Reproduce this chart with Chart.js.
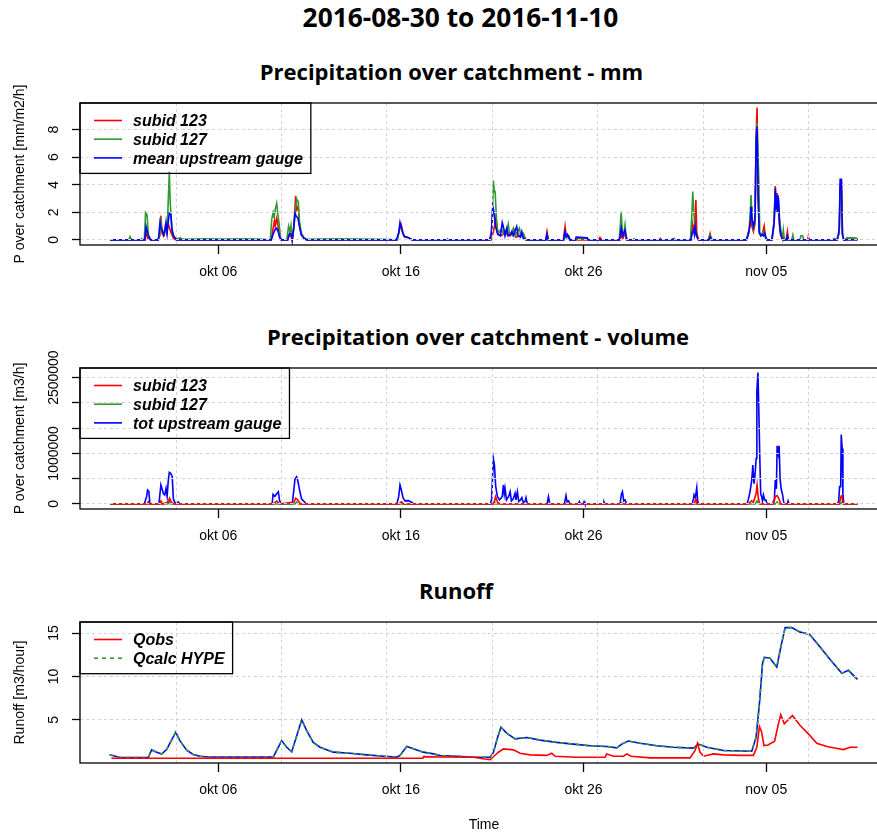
<!DOCTYPE html>
<html>
<head>
<meta charset="utf-8">
<script src="https://cdn.jsdelivr.net/npm/chart.js@4.4.1/dist/chart.umd.min.js"></script>
<style>
  html, body { margin: 0; padding: 0; background: #fff; overflow: hidden; }
  body { width: 877px; height: 836px; position: relative; }
  .ttl { position: absolute; text-align: center; font-family: "Open Sans", sans-serif; font-weight: bold; color: #000; white-space: nowrap; line-height: 1; }
  canvas { position: absolute; left: 0; }
</style>
</head>
<body>
<div class="ttl" style="left:0;width:921px;top:4px;font-size:26.3px">2016-08-30 to 2016-11-10</div>
<div class="ttl" style="left:0;width:903px;top:60px;font-size:22px">Precipitation over catchment - mm</div>
<div class="ttl" style="left:0;width:956px;top:325px;font-size:22px">Precipitation over catchment - volume</div>
<div class="ttl" style="left:0;width:912px;top:579px;font-size:22px">Runoff</div>

<canvas id="chartMm" width="910" height="245" style="top:40px"></canvas>
<canvas id="chartVol" width="910" height="229" style="top:320px"></canvas>
<canvas id="chartRunoff" width="910" height="256" style="top:580px"></canvas>

<script>
// time axis: days since 2016-09-30 00:00
const xMin = -1.57, xMax = 42.67;
const dayTicks = [6, 16, 26, 36];
const dayLabels = ['okt 06', 'okt 16', 'okt 26', 'nov 05'];
const gridDays = [3.72, 9.44, 15.22, 21.01, 26.78, 32.56, 38.31];

const mmTicks = [0, 2, 4, 6, 8];
const mmTickLabels = ['0', '2', '4', '6', '8'];
const volTicks = [0, 500000, 1000000, 1500000, 2000000, 2500000];
const volTickLabels = ['0', '', '1000000', '', '', '2500000'];
const runoffTicks = [5, 10, 15];
const runoffTickLabels = ['5', '10', '15'];

// precipitation [mm/m2/h], [day, value]
const mm123 = [
  [0.07,0],[2.0,0],[2.06,0.6],[2.15,0.1],[2.3,0],
  [2.7,0],[2.8,0.3],[2.86,1.74],[2.92,0.5],[3.0,0.3],[3.1,1.0],[3.18,0.5],[3.25,1.2],[3.32,0.9],[3.42,0.5],[3.55,0.1],[3.7,0],
  [3.85,0],[3.9,0.12],[3.96,0],
  [8.9,0],[9.0,0.8],[9.08,1.4],[9.12,1.0],[9.2,1.57],[9.27,1.1],[9.35,0.3],[9.45,0],
  [9.8,0],[9.92,0.5],[10.05,0],
  [10.15,1.2],[10.24,3.19],[10.3,2.2],[10.38,2.4],[10.45,1.0],[10.55,0.4],[10.7,0.1],[10.85,0],
  [12.9,0],[13.0,0.06],[13.1,0],
  [15.8,0],[15.95,0.9],[16.02,1.1],[16.1,0.6],[16.2,0.2],[16.4,0.15],[16.6,0],
  [20.95,0],[21.1,0.8],[21.21,1.69],[21.3,0.5],[21.45,0.3],[21.6,0.4],[21.76,0.72],[21.85,0.3],[22.0,0.3],[22.21,0.72],[22.3,0.2],[22.5,0.3],[22.6,0.4],[22.75,0.1],[22.9,0],
  [23.93,0],[24.0,0.6],[24.07,0],
  [24.9,0],[24.99,0.97],[25.05,0.3],[25.15,0.2],[25.25,0],
  [26.8,0],[26.9,0.19],[27.0,0],
  [28.0,0],[28.08,0.4],[28.15,0.1],[28.28,0.5],[28.35,0],
  [30.15,0],[30.2,0.1],[30.25,0],[30.8,0],[30.9,0.1],[31.0,0],
  [31.88,0],[31.96,1.2],[32.02,0.8],[32.1,1.2],[32.15,2.9],[32.2,0.5],[32.3,0],
  [32.85,0],[32.93,0.45],[33.0,0],
  [34.92,0],[35.03,0.6],[35.1,0.9],[35.17,1.6],[35.22,1.0],[35.3,0.6],[35.39,1.2],[35.45,7.6],[35.5,9.6],[35.56,3.5],[35.62,0.6],[35.72,0.3],[35.8,0.5],[35.89,1.0],[35.95,0.2],[36.05,0],
  [36.32,0],[36.43,1.2],[36.5,3.91],[36.55,2.5],[36.6,3.4],[36.66,2.6],[36.72,1.2],[36.78,0.4],[36.9,0],
  [37.1,0],[37.16,0.6],[37.22,0],[38.28,0],[38.31,0.25],[38.36,0],
  [39.9,0],[40.0,0.6],[40.05,3.6],[40.12,4.35],[40.18,0.5],[40.25,0],
  [40.35,0],[40.42,0.15],[40.9,0.12],[41.0,0]
];
const mm127 = [
  [0.07,0],[1.1,0],[1.17,0.24],[1.25,0],[1.75,0],[1.8,0.1],[1.86,0],
  [1.95,0],[2.02,1.98],[2.1,1.8],[2.18,0.3],[2.3,0],
  [2.7,0],[2.8,0.4],[2.86,1.3],[2.92,0.6],[3.05,0.4],[3.12,0.95],[3.2,0.6],[3.26,2.78],[3.32,4.95],[3.37,2.7],[3.45,1.0],[3.55,0.3],[3.7,0.05],
  [3.9,0.15],[4.1,0.05],[5.2,0.08],[6.3,0.06],[7.4,0.08],[8.2,0.06],
  [8.85,0],[8.93,1.5],[9.0,1.97],[9.05,1.6],[9.12,2.2],[9.2,2.66],[9.27,1.8],[9.33,1.2],[9.4,0.3],[9.48,0],
  [9.75,0],[9.85,1.0],[9.92,0.6],[9.98,1.05],[10.05,0],
  [10.15,1.0],[10.22,2.2],[10.3,2.95],[10.38,2.78],[10.45,1.3],[10.55,0.5],[10.7,0.15],[10.85,0.05],
  [11.5,0.06],[12.6,0.08],[13.8,0.06],[15.0,0.05],
  [15.8,0],[15.95,1.0],[16.05,0.8],[16.15,0.3],[16.4,0.15],[16.6,0],
  [18.5,0],[18.55,0.08],[18.6,0],
  [20.9,0],[21.0,1.0],[21.06,4.3],[21.12,3.5],[21.16,3.5],[21.25,1.0],[21.34,0.48],[21.5,0.8],[21.6,0.5],[21.75,0.4],[21.88,1.16],[21.95,0.4],[22.05,0.5],[22.16,0.85],[22.25,0.3],[22.35,0.5],[22.49,0.85],[22.56,0.3],[22.71,0.48],[22.85,0],
  [23.95,0],[24.02,0.3],[24.08,0],
  [24.92,0],[25.02,0.45],[25.1,0.2],[25.2,0.3],[25.28,0],
  [25.6,0],[25.65,0.12],[26.2,0.1],[26.25,0],
  [27.95,0],[28.02,1.2],[28.06,2.05],[28.12,0.6],[28.2,0.4],[28.27,1.09],[28.33,0.2],[28.4,0],
  [28.7,0],[28.75,0.08],[28.85,0],[30.8,0],[30.95,0.1],[31.05,0],
  [31.85,0],[31.93,1.8],[31.98,3.5],[32.04,1.9],[32.1,1.0],[32.16,0.4],[32.25,0.1],[32.35,0],
  [32.85,0],[32.9,0.35],[32.98,0.2],[33.05,0],
  [34.92,0],[35.05,0.5],[35.12,1.8],[35.17,3.26],[35.23,1.5],[35.3,0.8],[35.39,1.6],[35.45,7.4],[35.5,8.5],[35.6,4.2],[35.65,0.5],[35.75,0.4],[35.85,0.6],[35.9,0.5],[36.0,0.1],[36.05,0],
  [36.32,0],[36.43,1.4],[36.5,3.5],[36.56,2.0],[36.6,3.0],[36.68,2.8],[36.73,1.6],[36.8,0.72],[36.9,0.1],[36.94,0.7],[37.0,0],
  [37.4,0],[37.46,0.36],[37.52,0],[37.85,0],[37.9,0.3],[38.0,0.3],[38.05,0],
  [39.65,0],[39.7,0.1],[39.9,0],[40.0,0.7],[40.05,3.8],[40.12,3.5],[40.18,0.4],[40.25,0],
  [40.35,0],[40.45,0.15],[40.95,0.12],[41.0,0]
];
const mmGauge = [
  [0.07,0],[1.97,0],[2.05,0.97],[2.15,0.4],[2.3,0],
  [2.72,0],[2.81,1.26],[2.86,0.9],[2.95,0.6],[3.02,0.35],[3.1,0.8],[3.14,1.26],[3.2,0.5],[3.26,1.3],[3.32,1.93],[3.41,1.8],[3.47,0.6],[3.58,0.2],[3.74,0],
  [8.9,0],[9.0,0.4],[9.1,0.72],[9.2,0.85],[9.28,0.6],[9.36,0.2],[9.45,0],
  [9.8,0],[9.9,0.45],[10.0,0.4],[10.05,0],
  [10.13,0.8],[10.2,1.93],[10.28,1.7],[10.36,1.6],[10.45,0.95],[10.55,0.36],[10.7,0.1],[10.85,0],
  [15.75,0],[15.88,0.5],[15.95,1.26],[16.02,0.9],[16.1,0.5],[16.2,0.25],[16.35,0.2],[16.5,0.1],[16.65,0],
  [20.85,0],[20.95,0.5],[21.03,2.41],[21.1,2.0],[21.18,1.0],[21.3,0.4],[21.45,0.3],[21.55,1.26],[21.62,0.9],[21.7,0.3],[21.8,0.84],[21.88,0.3],[22.0,0.4],[22.07,0.6],[22.15,0.3],[22.34,0.97],[22.42,0.3],[22.55,0.2],[22.62,0.6],[22.7,0.1],[22.89,0],
  [23.93,0],[24.0,0.43],[24.07,0],
  [24.9,0],[24.98,0.6],[25.05,0.2],[25.12,0.4],[25.25,0],
  [25.55,0],[25.6,0.2],[26.2,0.15],[26.26,0],
  [27.97,0],[28.07,0.85],[28.15,0.3],[28.27,0.72],[28.35,0.1],[28.4,0],
  [31.88,0],[31.95,0.5],[32.02,0.72],[32.07,0.4],[32.11,0.97],[32.18,0.3],[32.3,0],
  [32.87,0],[32.93,0.2],[33.0,0],
  [34.9,0],[35.0,0.3],[35.08,0.8],[35.14,1.5],[35.17,2.41],[35.21,1.69],[35.3,0.97],[35.39,1.5],[35.45,7.25],[35.5,8.2],[35.56,3.0],[35.62,0.5],[35.7,0.3],[35.78,0.4],[35.85,0.3],[35.92,0.5],[36.0,0.1],[36.05,0],
  [36.3,0],[36.4,0.8],[36.45,1.57],[36.5,3.74],[36.55,2.2],[36.6,3.26],[36.64,2.0],[36.67,3.1],[36.72,1.5],[36.76,0.72],[36.82,0.3],[36.9,0.1],[36.95,0],
  [37.1,0],[37.16,0.3],[37.22,0],
  [39.85,0],[39.95,0.3],[40.0,0.85],[40.05,4.4],[40.12,4.4],[40.17,0.4],[40.25,0],
  [41.0,0]
];

// precipitation volume [m3/h]
const vol123 = [
  [0.07,0],[2.1,0],[2.17,46000],[2.24,0],[2.8,0],[2.86,60000],[2.95,0],[3.25,40000],[3.34,112000],[3.42,40000],[3.55,0],
  [9.0,0],[9.2,55000],[9.35,0],[10.15,40000],[10.24,112000],[10.35,80000],[10.5,0],
  [15.9,0],[16.02,40000],[16.15,0],[21.1,0],[21.18,145000],[21.3,30000],[21.45,0],
  [28.05,0],[28.1,20000],[28.2,0],[32.05,0],[32.15,100000],[32.22,0],
  [35.0,0],[35.1,30000],[35.2,60000],[35.3,30000],[35.45,210000],[35.5,375000],[35.56,150000],[35.62,30000],[35.7,0],
  [36.4,0],[36.5,145000],[36.6,164000],[36.7,100000],[36.8,0],
  [40.0,0],[40.1,150000],[40.14,178000],[40.2,20000],[40.25,0],[41.0,0]
];
const vol127 = [
  [0.07,0],[3.25,0],[3.32,50000],[3.4,0],[10.2,0],[10.29,40000],[10.4,0],[21.05,0],[21.1,40000],[21.2,0],
  [35.4,0],[35.5,60000],[35.6,0],[36.5,0],[36.6,40000],[36.7,0],[40.05,0],[40.12,30000],[40.2,0],[41.0,0]
];
const volGauge = [
  [0.07,0],[1.95,0],[2.08,150000],[2.13,276000],[2.2,250000],[2.26,0],
  [2.75,0],[2.86,375000],[2.92,300000],[3.0,200000],[3.07,178000],[3.14,309000],[3.2,150000],[3.26,450000],[3.32,625000],[3.4,605000],[3.48,539000],[3.54,100000],[3.62,30000],[3.7,0],[3.81,40000],[3.9,0],
  [8.95,0],[9.0,191000],[9.1,150000],[9.2,200000],[9.29,243000],[9.36,60000],[9.45,0],
  [10.05,0],[10.13,250000],[10.2,493000],[10.29,539000],[10.36,450000],[10.45,280000],[10.56,100000],[10.7,50000],[10.8,0],
  [15.78,0],[15.88,150000],[15.95,375000],[16.02,280000],[16.12,120000],[16.23,60000],[16.41,66000],[16.6,30000],[16.7,0],
  [20.9,0],[20.97,100000],[21.06,900000],[21.12,769000],[21.19,350000],[21.28,150000],[21.4,80000],[21.55,150000],[21.61,375000],[21.66,200000],[21.7,309000],[21.78,80000],[21.9,150000],[21.98,243000],[22.05,60000],[22.15,100000],[22.25,210000],[22.3,80000],[22.38,243000],[22.45,50000],[22.55,80000],[22.62,125000],[22.7,30000],[22.8,50000],[22.85,125000],[22.92,0],
  [24.0,0],[24.08,145000],[24.15,0],[24.95,0],[25.04,164000],[25.1,40000],[25.18,60000],[25.25,0],
  [25.72,0],[25.77,46000],[25.83,0],[25.98,0],[26.03,46000],[26.08,0],[27.07,0],[27.12,40000],[27.17,0],
  [28.0,0],[28.08,200000],[28.13,243000],[28.2,60000],[28.28,80000],[28.35,0],
  [31.95,0],[32.02,100000],[32.05,178000],[32.12,120000],[32.2,322000],[32.25,50000],[32.32,0],
  [34.95,0],[35.03,100000],[35.12,250000],[35.21,473000],[35.27,769000],[35.33,400000],[35.39,572000],[35.45,900000],[35.49,2230000],[35.55,2600000],[35.6,1800000],[35.65,933000],[35.7,200000],[35.75,145000],[35.8,60000],[35.85,178000],[35.92,80000],[35.99,79000],[36.05,0],
  [36.35,0],[36.45,100000],[36.5,473000],[36.56,300000],[36.6,1150000],[36.66,1000000],[36.71,1150000],[36.76,506000],[36.82,300000],[36.9,178000],[36.95,50000],[37.0,0],
  [37.15,0],[37.2,60000],[37.25,0],
  [39.9,0],[39.97,60000],[40.02,342000],[40.08,342000],[40.11,1375000],[40.16,1098000],[40.2,200000],[40.25,0],
  [41.0,0]
];

// runoff [m3/hour]
const qobs = [
  [0.15,0.57],[17.2,0.57],[17.25,0.76],[18.1,0.72],[19.97,0.69],[20.6,0.49],[20.9,0.41],[21.06,0.74],[21.34,1.26],[21.61,1.65],[22.16,1.53],[22.52,1.15],[23.07,0.96],[23.98,0.9],[24.26,1.15],[24.44,0.8],[25.63,0.69],[27.18,0.69],[27.27,1.07],[27.64,0.8],[28.19,0.8],[28.37,1.07],[28.6,0.8],[29.65,0.61],[31.83,0.61],[32.11,1.46],[32.24,2.3],[32.38,1.26],[32.57,0.8],[33.11,1.07],[33.66,0.96],[34.58,0.9],[35.3,0.9],[35.49,1.84],[35.63,4.22],[35.75,3.6],[35.88,2.03],[36.1,2.1],[36.46,2.53],[36.7,4.8],[36.8,5.6],[36.99,4.53],[37.44,5.5],[37.86,4.34],[38.31,3.38],[38.77,2.3],[39.32,1.92],[39.9,1.7],[40.23,1.57],[40.6,1.84],[41.0,1.84]
];
const qcalc = [
  [0.05,0.96],[0.62,0.66],[2.17,0.66],[2.35,1.53],[2.6,1.3],[2.9,1.05],[3.18,1.6],[3.67,3.57],[3.9,2.6],[4.27,1.5],[4.63,1.0],[5.0,0.8],[5.46,0.72],[9.01,0.7],[9.47,2.6],[9.75,1.84],[10.02,1.3],[10.57,5.0],[10.84,3.76],[11.2,2.4],[11.57,1.84],[12.3,1.27],[13.21,1.15],[14.13,0.96],[15.04,0.8],[15.77,0.7],[15.95,0.9],[16.32,1.92],[16.68,1.65],[17.23,1.27],[17.78,1.07],[18.14,0.88],[19.06,0.8],[19.97,0.69],[20.88,0.69],[21.06,1.2],[21.3,3.0],[21.48,4.15],[21.79,3.46],[22.25,2.8],[22.89,2.96],[23.62,2.66],[24.53,2.4],[25.44,2.2],[26.36,2.0],[27.27,1.92],[27.82,1.76],[28.09,2.2],[28.45,2.55],[29.1,2.3],[30.01,2.0],[30.92,1.84],[32.02,1.73],[32.29,2.2],[32.75,1.84],[33.66,1.46],[35.21,1.38],[35.45,3.0],[35.63,6.85],[35.8,11.5],[35.9,12.2],[36.21,12.1],[36.58,11.08],[36.8,13.38],[37.04,15.62],[37.4,15.62],[37.86,15.1],[38.37,14.85],[38.95,13.4],[39.5,11.96],[40.14,10.35],[40.5,10.7],[41.0,9.65]
];

const RED = '#ff0000', GREEN = '#2f9a2f', BLUE = '#0000ff';
const GRID = '#d3d3d3';

Chart.defaults.font.family = '"Liberation Sans", Arial, sans-serif';
Chart.defaults.font.size = 14;
Chart.defaults.color = '#000';

const pts = arr => arr.map(([x, y]) => ({ x, y }));

// plot box plus a boxed legend in the top-left corner
const boxLegend = {
  id: 'boxLegend',
  afterDraw(chart, args, opts) {
    const { ctx, chartArea: a } = chart;
    ctx.save();
    ctx.strokeStyle = '#000';
    ctx.lineWidth = 1.3;
    ctx.strokeRect(a.left, a.top, a.right - a.left, a.bottom - a.top);

    const items = opts.items || [];
    ctx.font = 'italic bold 16px "Liberation Sans", Arial, sans-serif';
    const textW = Math.max(...items.map(i => ctx.measureText(chart.data.datasets[i].label).width));
    const w = 53 + textW + 8;
    const h = 17.5 + (items.length - 1) * 18.7 + 15.5;
    ctx.strokeRect(a.left, a.top, w, h);
    items.forEach((idx, k) => {
      const ds = chart.data.datasets[idx];
      const y = a.top + 17.5 + k * 18.7;
      ctx.setLineDash(ds.borderDash || []);
      ctx.strokeStyle = ds.borderColor;
      ctx.lineWidth = ds.borderWidth || 1.6;
      ctx.beginPath();
      ctx.moveTo(a.left + 14, y);
      ctx.lineTo(a.left + 42, y);
      ctx.stroke();
      ctx.setLineDash([]);
      ctx.fillStyle = '#000';
      ctx.textBaseline = 'middle';
      ctx.fillText(ds.label, a.left + 53, y + 1.5);
    });
    ctx.restore();
  }
};

function panel(id, datasets, o) {
  return new Chart(document.getElementById(id), {
    type: 'line',
    data: { datasets },
    options: {
      responsive: false,
      animation: false,
      events: [],
      layout: { padding: { top: o.padTop, right: 22, bottom: 0, left: 0 } },
      elements: { point: { radius: 0 }, line: { tension: 0, borderWidth: 1.6 } },
      plugins: { legend: { display: false }, tooltip: { enabled: false }, boxLegend: { items: o.legend } },
      scales: {
        x: {
          type: 'linear', position: 'bottom', min: xMin, max: xMax,
          afterBuildTicks: s => { s.ticks = dayTicks.map(v => ({ value: v })); },
          afterFit: s => { s.height = o.xAxisH; s.paddingLeft = 0; s.paddingRight = 0; },
          ticks: { autoSkip: false, maxRotation: 0, padding: 9.5, callback: (v, i) => dayLabels[i] },
          grid: { drawOnChartArea: false, tickLength: 9, tickColor: '#000', tickWidth: 1.3 },
          border: { display: false },
          title: { display: !!o.xTitle, text: o.xTitle || '', padding: { top: 0, bottom: 2.5 } }
        },
        xg: {
          type: 'linear', position: 'top', min: xMin, max: xMax,
          afterBuildTicks: s => { s.ticks = gridDays.map(v => ({ value: v })); },
          afterFit: s => { s.height = 0; s.paddingLeft = 0; s.paddingRight = 0; },
          ticks: { display: false },
          grid: { color: GRID, drawTicks: false, z: 1 },
          border: { display: false, dash: [3, 3] }
        },
        y: {
          type: 'linear', position: 'left', min: o.yMin, max: o.yMax,
          afterBuildTicks: s => { s.ticks = o.yTicks.map(v => ({ value: v })); },
          afterFit: s => { s.width = 80; s.paddingTop = 0; s.paddingBottom = 0; },
          ticks: { autoSkip: false, minRotation: 90, maxRotation: 90, crossAlign: 'center', padding: o.yPad,
                   callback: (v, i) => o.yLabels[i] },
          grid: { color: GRID, tickColor: '#000', tickLength: 8, tickWidth: 1.3, z: 1 },
          border: { display: false, dash: [3, 3] },
          title: { display: true, text: o.yTitle, padding: { top: 11.6, bottom: 0 } }
        }
      }
    },
    plugins: [boxLegend]
  });
}

panel('chartMm', [
  { label: 'subid 123', data: pts(mm123), borderColor: RED, borderWidth: 1.6, order: 2 },
  { label: 'subid 127', data: pts(mm127), borderColor: GREEN, borderWidth: 1.6, order: 1 },
  { label: 'mean upstream gauge', data: pts(mmGauge), borderColor: BLUE, borderWidth: 1.6, order: 0 }
], { padTop: 63, xAxisH: 40, yMin: -0.37, yMax: 9.93, yTicks: mmTicks, yLabels: mmTickLabels, yPad: 14,
     yTitle: 'P over catchment [mm/m2/h]', legend: [0, 1, 2] });

panel('chartVol', [
  { label: 'subid 123', data: pts(vol123), borderColor: RED, borderWidth: 1.6, order: 0 },
  { label: 'subid 127', data: pts(vol127), borderColor: GREEN, borderWidth: 1.6, order: 1 },
  { label: 'tot upstream gauge', data: pts(volGauge), borderColor: BLUE, borderWidth: 1.6, order: 2 }
], { padTop: 48, xAxisH: 40, yMin: -100000, yMax: 2690000, yTicks: volTicks, yLabels: volTickLabels, yPad: -9,
     yTitle: 'P over catchment [m3/h]', legend: [0, 1, 2] });

panel('chartRunoff', [
  { label: 'Qobs', data: pts(qobs), borderColor: RED, borderWidth: 1.6, order: 0 },
  { label: 'Qcalc HYPE', data: pts(qcalc), borderColor: GREEN, borderWidth: 1.6, borderDash: [4, 4], order: 1 },
  { label: 'Qcalc', data: pts(qcalc), borderColor: BLUE, borderWidth: 1.6, order: 2 }
], { padTop: 42, xAxisH: 73, yMin: 0.02, yMax: 16.27, yTicks: runoffTicks, yLabels: runoffTickLabels, yPad: 10,
     yTitle: 'Runoff [m3/hour]', xTitle: 'Time', legend: [0, 1] });
</script>
</body>
</html>
